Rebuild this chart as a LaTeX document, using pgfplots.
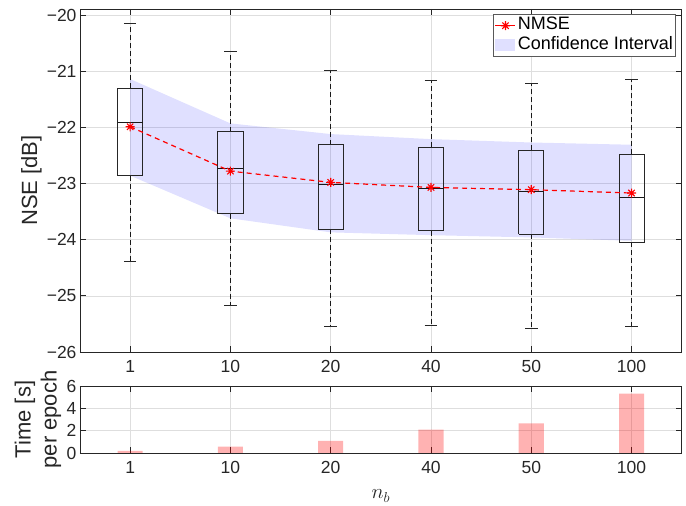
\documentclass[border=0pt]{standalone}
\usepackage{fontspec}
\setmainfont{Liberation Sans}
\usepackage{pgfplots}
\pgfplotsset{compat=1.18}
\usetikzlibrary{calc}

\definecolor{axisgray}{gray}{0.15}
\definecolor{gridgray}{gray}{0.87}

% MATLAB-like eight-armed asterisk
\pgfdeclareplotmark{mstar}{%
  \pgfpathmoveto{\pgfqpoint{\pgfplotmarksize}{0pt}}\pgfpathlineto{\pgfqpoint{-\pgfplotmarksize}{0pt}}%
  \pgfpathmoveto{\pgfqpoint{0pt}{\pgfplotmarksize}}\pgfpathlineto{\pgfqpoint{0pt}{-\pgfplotmarksize}}%
  \pgfpathmoveto{\pgfqpoint{0.707\pgfplotmarksize}{0.707\pgfplotmarksize}}\pgfpathlineto{\pgfqpoint{-0.707\pgfplotmarksize}{-0.707\pgfplotmarksize}}%
  \pgfpathmoveto{\pgfqpoint{0.707\pgfplotmarksize}{-0.707\pgfplotmarksize}}\pgfpathlineto{\pgfqpoint{-0.707\pgfplotmarksize}{0.707\pgfplotmarksize}}%
  \pgfusepathqstroke}

\pgfplotsset{
  nbaxis/.style={
    scale only axis, width=601.7pt,
    xmin=-0.5, xmax=5.5,
    xtick={0,1,2,3,4,5}, xticklabels={1,10,20,40,50,100},
    tick align=inside, major tick length=6pt,
    axis line style={axisgray, line width=0.8pt},
    every tick/.style={axisgray, line width=0.8pt},
    grid=major, major grid style={gridgray, line width=0.6pt},
    tick label style={font=\fontsize{17.5}{21}\selectfont, text=axisgray},
    /pgf/number format/assume math mode=true,
    xticklabel style={yshift=-5pt},
    label style={font=\fontsize{22}{26}\selectfont, text=axisgray},
    unbounded coords=jump,
  },
}

\begin{document}
\begin{tikzpicture}
\begin{axis}[nbaxis, name=top, height=343pt,
    ymin=-26, ymax=-19.893,
    ytick={-26,-25,-24,-23,-22,-21,-20},
    yticklabels={−26,−25,−24,−23,−22,−21,−20},
    ylabel={NSE [dB]},
    every axis y label/.append style={at={(axis description cs:-0.0806,0.5)}, anchor=center},
    legend style={at={(rel axis cs:0.990,0.9854)}, anchor=north east,
      draw=black!65, line width=0.8pt, fill=white,
      font=\fontsize{18}{20}\selectfont, inner xsep=1.5pt, inner ysep=1.5pt,
      nodes={inner sep=0.8pt, text height=13pt, text depth=5pt},
      column sep=1pt, row sep=0pt},
    legend cell align=left,
  ]
  % confidence band
  \addplot[draw=none, fill=blue, fill opacity=0.12, forget plot] coordinates {
    (0,-21.14) (1,-21.93) (2,-22.12) (3,-22.21) (4,-22.27) (5,-22.31)
    (5,-24.02) (4,-23.96) (3,-23.92) (2,-23.87) (1,-23.62) (0,-22.86)} -- cycle;

  % whiskers (quartile to whisker end)
  \addplot[black!90, line width=0.8pt, dash pattern=on 5pt off 3pt, forget plot] coordinates {
    (0,-21.30) (0,-20.15) (nan,nan) (0,-22.86) (0,-24.38) (nan,nan)
    (1,-22.08) (1,-20.64) (nan,nan) (1,-23.54) (1,-25.17) (nan,nan)
    (2,-22.31) (2,-20.99) (nan,nan) (2,-23.81) (2,-25.55) (nan,nan)
    (3,-22.35) (3,-21.16) (nan,nan) (3,-23.84) (3,-25.52) (nan,nan)
    (4,-22.41) (4,-21.22) (nan,nan) (4,-23.90) (4,-25.58) (nan,nan)
    (5,-22.48) (5,-21.14) (nan,nan) (5,-24.05) (5,-25.55)};

  % boxes (lower quartile, upper quartile)
  \addplot[black!85, line width=0.8pt, forget plot] coordinates {
    (-0.125,-22.86) (0.125,-22.86) (0.125,-21.30) (-0.125,-21.30) (-0.125,-22.86) (nan,nan)
    (0.875,-23.54) (1.125,-23.54) (1.125,-22.08) (0.875,-22.08) (0.875,-23.54) (nan,nan)
    (1.875,-23.81) (2.125,-23.81) (2.125,-22.31) (1.875,-22.31) (1.875,-23.81) (nan,nan)
    (2.875,-23.84) (3.125,-23.84) (3.125,-22.35) (2.875,-22.35) (2.875,-23.84) (nan,nan)
    (3.875,-23.90) (4.125,-23.90) (4.125,-22.41) (3.875,-22.41) (3.875,-23.90) (nan,nan)
    (4.875,-24.05) (5.125,-24.05) (5.125,-22.48) (4.875,-22.48) (4.875,-24.05)};

  % medians
  \addplot[black!90, line width=0.8pt, forget plot] coordinates {
    (-0.125,-21.91) (0.125,-21.91) (nan,nan)
    (0.875,-22.73) (1.125,-22.73) (nan,nan)
    (1.875,-23.02) (2.125,-23.02) (nan,nan)
    (2.875,-23.08) (3.125,-23.08) (nan,nan)
    (3.875,-23.14) (4.125,-23.14) (nan,nan)
    (4.875,-23.24) (5.125,-23.24)};

  % whisker caps
  \addplot[black!85, line width=0.8pt, forget plot] coordinates {
    (-0.0625,-20.15) (0.0625,-20.15) (nan,nan) (-0.0625,-24.38) (0.0625,-24.38) (nan,nan)
    (0.9375,-20.64) (1.0625,-20.64) (nan,nan) (0.9375,-25.17) (1.0625,-25.17) (nan,nan)
    (1.9375,-20.99) (2.0625,-20.99) (nan,nan) (1.9375,-25.55) (2.0625,-25.55) (nan,nan)
    (2.9375,-21.16) (3.0625,-21.16) (nan,nan) (2.9375,-25.52) (3.0625,-25.52) (nan,nan)
    (3.9375,-21.22) (4.0625,-21.22) (nan,nan) (3.9375,-25.58) (4.0625,-25.58) (nan,nan)
    (4.9375,-21.14) (5.0625,-21.14) (nan,nan) (4.9375,-25.55) (5.0625,-25.55)};

  % NMSE
  \addplot[red, line width=1.2pt, dash pattern=on 5pt off 4pt,
    mark=mstar, mark size=4.5pt, mark options={solid, line width=1.1pt},
    legend image code/.code={\draw[mark repeat=2, mark phase=2, solid] plot coordinates {(0pt,0pt) (10pt,0pt) (20pt,0pt)};}]
    coordinates {(0,-21.99) (1,-22.78) (2,-22.98) (3,-23.07) (4,-23.11) (5,-23.17)};
  \addlegendentry{NMSE}
  \addlegendimage{legend image code/.code={\fill[draw=none, blue, fill opacity=0.12] (0pt,-6pt) rectangle (20pt,6pt);}}
  \addlegendentry{Confidence Interval}
\end{axis}

\begin{axis}[nbaxis, at={($(top.south west)+(0,-34pt)$)}, anchor=north west, height=67pt,
    ymin=0, ymax=6, ytick={0,2,4,6},
    ylabel={Time [s]\\per epoch},
    every axis y label/.append style={at={(axis description cs:-0.0698,0.5)}, anchor=center, align=center},
    xlabel={$n_b$},
    every axis x label/.append style={at={(axis description cs:0.5,-0.642)}, anchor=center, inner sep=0pt},
  ]
  \addplot[ybar, bar width=0.25, fill=red, fill opacity=0.3, draw=none]
    coordinates {(0,0.18) (1,0.56) (2,1.09) (3,2.09) (4,2.65) (5,5.32)};
\end{axis}

\pgfresetboundingbox
\path[use as bounding box] ($(top.north west)+(-80pt,9pt)$) rectangle ($(top.north west)+(606pt,-497pt)$);
\end{tikzpicture}
\end{document}
